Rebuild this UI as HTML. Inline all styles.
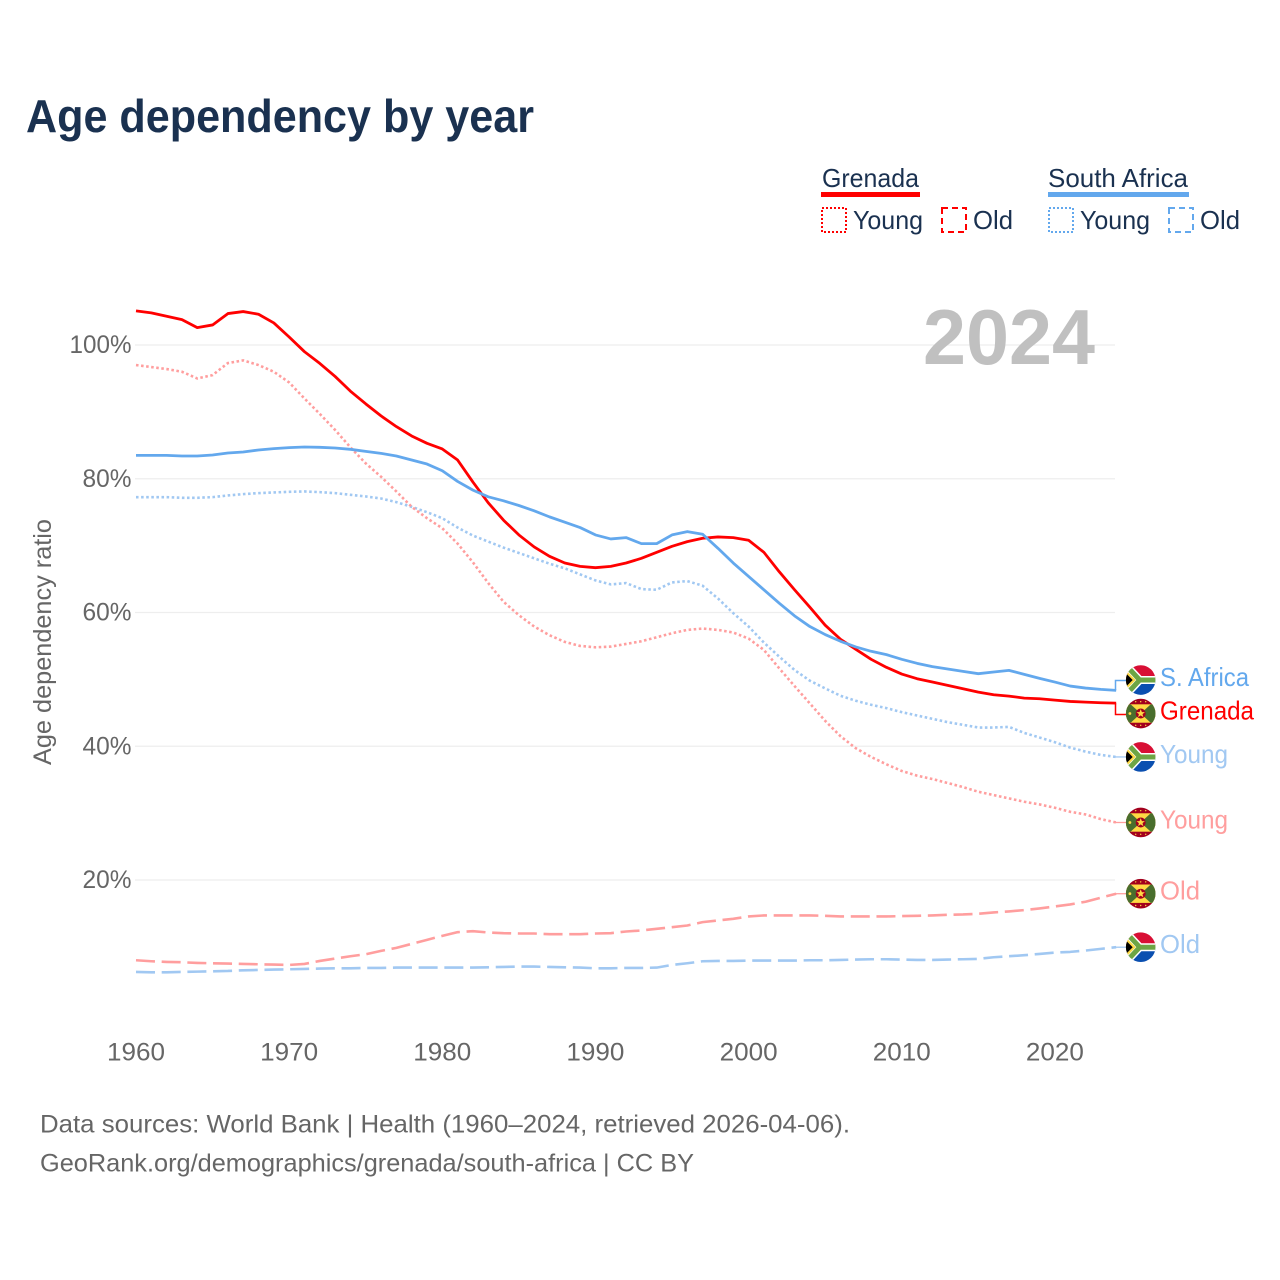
<!DOCTYPE html>
<html lang="en">
<head>
<meta charset="utf-8">
<title>Age dependency by year</title>
<style>
html,body{margin:0;padding:0;background:#fff;}
svg{display:block;font-family:"Liberation Sans",sans-serif;}
.tick{font-size:25px;fill:#666;}
.legend{font-size:26px;fill:#1a3150;}
.foot{font-size:25px;fill:#666;}
.end{font-size:26px;}
</style>
</head>
<body>
<svg id="chart" width="1280" height="1280" viewBox="0 0 1280 1280" xmlns="http://www.w3.org/2000/svg">
  <defs>
    <clipPath id="flagClip"><circle cx="0" cy="0" r="14.8"/></clipPath>
    <symbol id="flag-za" viewBox="-15 -15 30 30" overflow="visible">
      <g clip-path="url(#flagClip)">
        <rect x="-15" y="-15" width="30" height="15" fill="#d80f34"/>
        <rect x="-15" y="0" width="30" height="15" fill="#0a4fb0"/>
        <path d="M-15 -15 L-1 0 L-15 15 M-1 0 H15" fill="none" stroke="#fff" stroke-width="8"/>
        <path d="M-15 -15 L-1 0 L-15 15 M-1 0 H15" fill="none" stroke="#6da544" stroke-width="5"/>
        <path d="M-15 -10 L-5 0 L-15 10 Z" fill="#ffda44"/>
        <path d="M-15 -7 L-8 0 L-15 7 Z" fill="#000"/>
      </g>
    </symbol>
    <symbol id="flag-gd" viewBox="-15 -15 30 30" overflow="visible">
      <g clip-path="url(#flagClip)">
        <rect x="-15" y="-15" width="30" height="30" fill="#a2001d"/>
        <rect x="-15" y="-9.2" width="30" height="18.4" fill="#ffda44"/>
        <path d="M-15 -9.2 L-10 -9.2 L0 0 L-10 9.2 L-15 9.2 Z M15 -9.2 L10 -9.2 L0 0 L10 9.2 L15 9.2 Z" fill="#496e2d"/>
        <circle cx="0" cy="0" r="5" fill="#a2001d"/>
        <path d="M0 -4.4 L1.2 -1.4 L4.2 -1.4 L1.8 0.6 L2.6 3.6 L0 1.9 L-2.6 3.6 L-1.8 0.6 L-4.2 -1.4 L-1.2 -1.4 Z" fill="#ffda44"/>
        <circle cx="-10.8" cy="0" r="1.4" fill="#ffda44"/>
        <g fill="#ffda44">
          <circle cx="-5" cy="-11.8" r="0.7"/><circle cx="0" cy="-11.8" r="0.7"/><circle cx="5" cy="-11.8" r="0.7"/>
          <circle cx="-5" cy="11.8" r="0.7"/><circle cx="0" cy="11.8" r="0.7"/><circle cx="5" cy="11.8" r="0.7"/>
        </g>
      </g>
    </symbol>
  </defs>

  <rect x="0" y="0" width="1280" height="1280" fill="#fff"/>

  <text x="26" y="132" font-size="46" font-weight="700" fill="#1a3150" textLength="508" lengthAdjust="spacingAndGlyphs">Age dependency by year</text>

  <g>
    <g>
      <text class="legend" x="822" y="187" textLength="97" lengthAdjust="spacingAndGlyphs">Grenada</text>
      <rect x="821" y="192" width="99" height="5" fill="#ff0000"/>
      <rect x="822" y="208" width="24" height="24" fill="none" stroke="#ff0000" stroke-width="2" stroke-dasharray="2 2"/>
      <text class="legend" x="853" y="229" textLength="70" lengthAdjust="spacingAndGlyphs">Young</text>
      <rect x="942" y="208" width="24" height="24" fill="none" stroke="#ff0000" stroke-width="2" stroke-dasharray="6 4"/>
      <text class="legend" x="973" y="229" textLength="40" lengthAdjust="spacingAndGlyphs">Old</text>
    </g>
    <g>
      <text class="legend" x="1048" y="187" textLength="140" lengthAdjust="spacingAndGlyphs">South Africa</text>
      <rect x="1048" y="192" width="141" height="5" fill="#63a8ed"/>
      <rect x="1049" y="208" width="24" height="24" fill="none" stroke="#63a8ed" stroke-width="2" stroke-dasharray="2 2"/>
      <text class="legend" x="1080" y="229" textLength="70" lengthAdjust="spacingAndGlyphs">Young</text>
      <rect x="1169" y="208" width="24" height="24" fill="none" stroke="#63a8ed" stroke-width="2" stroke-dasharray="6 4"/>
      <text class="legend" x="1200" y="229" textLength="40" lengthAdjust="spacingAndGlyphs">Old</text>
    </g>
  </g>

  <text transform="translate(51,642) rotate(-90)" text-anchor="middle" font-size="25" fill="#666" textLength="246" lengthAdjust="spacingAndGlyphs">Age dependency ratio</text>

  <g id="grid"></g>
  <g id="yticks"></g>
  <g id="xticks"></g>

  <text x="923" y="364" font-size="78" font-weight="700" fill="#c0c0c0" textLength="172" lengthAdjust="spacingAndGlyphs">2024</text>

  <g id="series"></g>
  <g id="ends"></g>

  <text class="foot" x="40" y="1132.5" textLength="810" lengthAdjust="spacingAndGlyphs">Data sources: World Bank | Health (1960–2024, retrieved 2026-04-06).</text>
  <text class="foot" x="40" y="1171.5" textLength="654" lengthAdjust="spacingAndGlyphs">GeoRank.org/demographics/grenada/south-africa | CC BY</text>
</svg>

<script>
const years = [1960,1961,1962,1963,1964,1965,1966,1967,1968,1969,1970,1971,1972,1973,1974,1975,1976,1977,1978,1979,1980,1981,1982,1983,1984,1985,1986,1987,1988,1989,1990,1991,1992,1993,1994,1995,1996,1997,1998,1999,2000,2001,2002,2003,2004,2005,2006,2007,2008,2009,2010,2011,2012,2013,2014,2015,2016,2017,2018,2019,2020,2021,2022,2023,2024];
const xTickValues = [1960,1970,1980,1990,2000,2010,2020];
const yTickValues = [20,40,60,80,100];

const grenadaOld = [8.0,7.85,7.75,7.7,7.6,7.55,7.5,7.45,7.4,7.35,7.3,7.45,7.9,8.25,8.6,8.9,9.4,9.85,10.45,11.05,11.65,12.2,12.35,12.15,12.05,12.0,12.0,11.9,11.9,11.9,12.0,12.05,12.3,12.45,12.7,12.95,13.2,13.7,13.95,14.2,14.55,14.7,14.7,14.7,14.7,14.65,14.55,14.55,14.55,14.55,14.6,14.65,14.7,14.8,14.85,14.95,15.15,15.3,15.5,15.75,16.05,16.35,16.75,17.35,17.95];
const southAfricaOld = [6.25,6.2,6.2,6.25,6.3,6.35,6.4,6.5,6.55,6.6,6.65,6.7,6.75,6.8,6.8,6.85,6.85,6.9,6.9,6.9,6.9,6.9,6.9,6.95,7.0,7.05,7.05,7.0,6.95,6.9,6.8,6.8,6.85,6.85,6.9,7.3,7.55,7.85,7.9,7.9,7.95,7.95,7.95,7.95,8.0,8.0,8.05,8.1,8.15,8.15,8.1,8.05,8.05,8.1,8.15,8.2,8.45,8.6,8.75,8.95,9.15,9.25,9.45,9.7,9.95];
const grenadaYoung = [97.0,96.7,96.4,96.0,95.0,95.5,97.3,97.7,97.0,96.0,94.4,92.0,89.7,87.3,84.7,82.3,80.3,78.1,75.8,74.1,72.6,70.3,67.5,64.4,61.6,59.6,57.9,56.6,55.6,55.0,54.8,54.9,55.3,55.7,56.3,56.9,57.4,57.6,57.4,57.0,56.1,54.4,51.65,49.0,46.4,43.8,41.5,39.7,38.4,37.3,36.3,35.6,35.1,34.5,33.9,33.2,32.7,32.2,31.7,31.3,30.8,30.2,29.8,29.1,28.6];
const southAfricaYoung = [77.25,77.25,77.25,77.15,77.15,77.25,77.5,77.7,77.85,77.95,78.05,78.1,78.0,77.85,77.6,77.35,77.05,76.5,75.8,75.0,74.1,72.7,71.5,70.6,69.7,68.9,68.1,67.3,66.6,65.7,64.8,64.2,64.4,63.5,63.4,64.5,64.7,64.0,62.1,59.9,57.9,55.5,53.4,51.4,49.8,48.65,47.55,46.8,46.2,45.7,45.1,44.6,44.1,43.6,43.2,42.8,42.8,42.9,42.0,41.3,40.6,39.8,39.2,38.7,38.4];
const grenadaTotal = [105.1,104.8,104.3,103.8,102.6,103.0,104.7,105.0,104.6,103.3,101.2,99.0,97.25,95.3,93.1,91.2,89.4,87.8,86.4,85.3,84.45,82.8,79.5,76.4,73.8,71.6,69.8,68.4,67.4,66.9,66.7,66.9,67.4,68.1,69.0,69.9,70.6,71.1,71.3,71.2,70.8,69.0,66.1,63.4,60.8,58.1,56.0,54.5,53.0,51.8,50.8,50.1,49.6,49.1,48.6,48.1,47.7,47.5,47.2,47.1,46.9,46.7,46.6,46.5,46.45];
const southAfricaTotal = [83.5,83.5,83.5,83.4,83.4,83.55,83.85,84.0,84.3,84.5,84.65,84.75,84.7,84.6,84.4,84.1,83.8,83.4,82.8,82.2,81.2,79.6,78.3,77.3,76.7,76.0,75.2,74.3,73.5,72.7,71.6,71.0,71.2,70.3,70.3,71.6,72.1,71.7,69.6,67.4,65.4,63.4,61.4,59.5,57.9,56.7,55.7,54.85,54.2,53.7,53.0,52.4,51.9,51.55,51.2,50.85,51.1,51.35,50.75,50.15,49.6,49.0,48.7,48.5,48.35];

const NS = 'http://www.w3.org/2000/svg';
function xScale(year){ return 136 + (year - 1960) * 15.315; }
function yScale(v){ return 1013.75 - v * 6.6875; }

const gridG = document.getElementById('grid');
const yG = document.getElementById('yticks');
const xG = document.getElementById('xticks');
const seriesG = document.getElementById('series');
const endsG = document.getElementById('ends');

yTickValues.forEach(function(t){
  const line = document.createElementNS(NS,'line');
  
  
  line.setAttribute('x1',135);
  line.setAttribute('x2',1115);
  line.setAttribute('y1',yScale(t));
  line.setAttribute('y2',yScale(t));
  line.setAttribute('stroke','#eeeeee');
  line.setAttribute('stroke-width','1.3');
  gridG.appendChild(line);
  const label = document.createElementNS(NS,'text');
  
  
  label.setAttribute('class','tick');
  label.setAttribute('x',131.5);
  label.setAttribute('y',yScale(t) + 8);
  label.setAttribute('text-anchor','end');
  label.setAttribute('textLength', t >= 100 ? 62 : 49);
  label.setAttribute('lengthAdjust','spacingAndGlyphs');
  label.textContent = t + '%';
  yG.appendChild(label);
});

xTickValues.forEach(function(t){
  const label = document.createElementNS(NS,'text');
  
  
  label.setAttribute('class','tick');
  label.setAttribute('x',xScale(t));
  label.setAttribute('y',1060.5);
  label.setAttribute('text-anchor','middle');
  label.setAttribute('textLength','58');
  label.setAttribute('lengthAdjust','spacingAndGlyphs');
  label.textContent = t;
  xG.appendChild(label);
});

const seriesNames = ['south-africa-old','grenada-old','south-africa-young','grenada-young','grenada-total','south-africa-total'];
const seriesValues = [southAfricaOld,grenadaOld,southAfricaYoung,grenadaYoung,grenadaTotal,southAfricaTotal];
const seriesLabels = ['Old','Old','Young','Young','Grenada','S. Africa'];
const seriesFlags = ['flag-za','flag-gd','flag-za','flag-gd','flag-gd','flag-za'];
const seriesColors = ['#a1c8f2','#ff9e9e','#a1c8f2','#ff9e9e','#ff0000','#63a8ed'];
const seriesDash = ['19 6.7','19 6.7','2.55 2.55','2.55 2.55','',''];
const labelWidths = [40,40,68,68,94,89];

const pathFor = function(vals){
  return vals.map(function(v,i){ return (i ? 'L' : 'M') + xScale(years[i]).toFixed(2) + ' ' + yScale(v).toFixed(2); }).join(' ');
};

seriesNames.forEach(function(name,i){
  const p = document.createElementNS(NS,'path');
  
  
  p.setAttribute('d',pathFor(seriesValues[i]));
  p.setAttribute('fill','none');
  p.setAttribute('stroke',seriesColors[i]);
  p.setAttribute('stroke-width', seriesDash[i] ? '2.6' : '2.8');
  p.setAttribute('stroke-linejoin','round');
  if (seriesDash[i]) p.setAttribute('stroke-dasharray',seriesDash[i]);
  seriesG.appendChild(p);
});

/* end-label placement: spread labels that would collide */
const minGap = 33.5;
const placed = seriesNames.map(function(n,i){
  const y = yScale(seriesValues[i][seriesValues[i].length - 1]);
  return {i:i, y0:y, y:y};
}).sort(function(a,b){ return a.y0 - b.y0; });
for (let k = 1; k < placed.length; k++) {
  const gap = placed[k].y - placed[k-1].y;
  if (gap < minGap) {
    const push = (minGap - gap) / 2;
    placed[k-1].y -= push;
    placed[k].y += push;
  }
}

placed.forEach(function(item){
  const i = item.i;
  const name = seriesNames[i];
  const conn = document.createElementNS(NS,'path');
  
  
  const moved = Math.abs(item.y - item.y0) > 0.5;
  const elbowY = Math.round(item.y) + 0.5;
  conn.setAttribute('d', moved
    ? 'M1115.5 ' + item.y0.toFixed(2) + ' V' + elbowY + ' H1127'
    : 'M1115.5 ' + item.y0.toFixed(2) + ' H1127');
  conn.setAttribute('fill','none');
  conn.setAttribute('stroke',seriesColors[i]);
  conn.setAttribute('stroke-width', moved ? '1.5' : '1.3');
  endsG.appendChild(conn);

  const flag = document.createElementNS(NS,'use');
  
  
  flag.setAttribute('href','#' + seriesFlags[i]);
  flag.setAttribute('x',1125.7);
  flag.setAttribute('y',item.y - 15);
  flag.setAttribute('width',30);
  flag.setAttribute('height',30);
  endsG.appendChild(flag);

  const text = document.createElementNS(NS,'text');
  
  
  text.setAttribute('class','end');
  text.setAttribute('x',1160);
  text.setAttribute('y',item.y + 6);
  text.setAttribute('fill',seriesColors[i]);
  text.setAttribute('textLength',labelWidths[i]);
  text.setAttribute('lengthAdjust','spacingAndGlyphs');
  text.textContent = seriesLabels[i];
  endsG.appendChild(text);
});
</script>
</body>
</html>
